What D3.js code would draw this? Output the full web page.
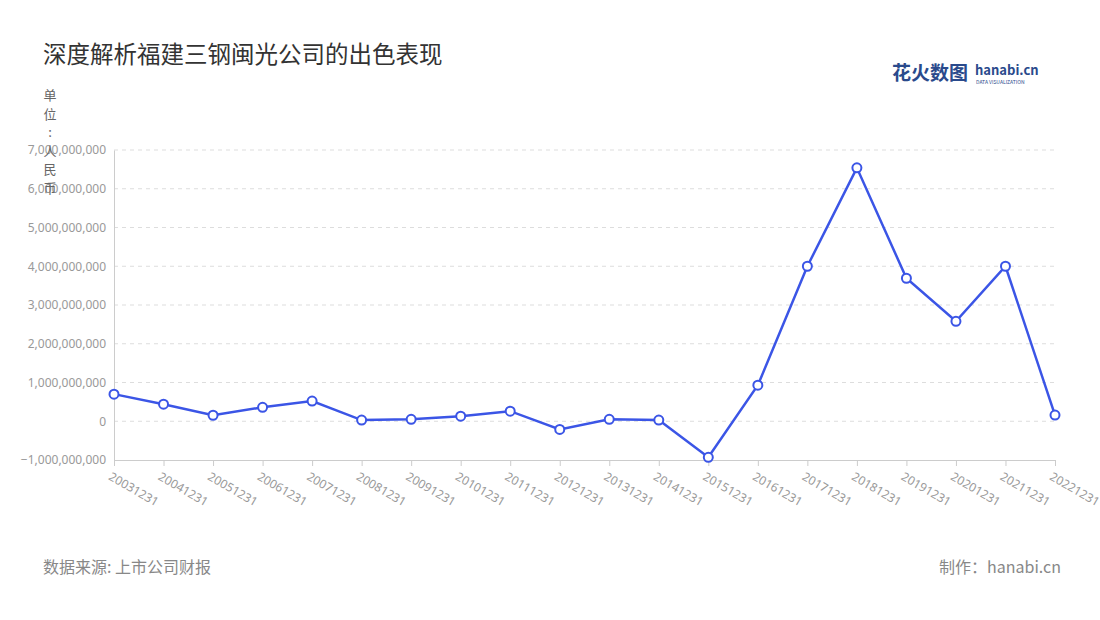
<!DOCTYPE html><html><head><meta charset="utf-8">
<script src="https://cdn.jsdelivr.net/npm/d3@7"></script>
<style>body{margin:0;background:#fff;font-family:"Noto Sans CJK SC","Noto Sans",sans-serif}</style></head><body>
<svg id="c" width="1100" height="620"></svg>
<script>
const categories=["20031231","20041231","20051231","20061231","20071231","20081231","20091231","20101231","20111231","20121231","20131231","20141231","20151231","20161231","20171231","20181231","20191231","20201231","20211231","20221231"];
const values=[0.70e9,0.44e9,0.155e9,0.36e9,0.52e9,0.03e9,0.05e9,0.13e9,0.26e9,-0.21e9,0.05e9,0.03e9,-0.93e9,0.93e9,4.0e9,6.54e9,3.69e9,2.58e9,4.0e9,0.16e9];
const yTicks=[-1e9,0,1e9,2e9,3e9,4e9,5e9,6e9,7e9];
const svg=d3.select("#c");
const x=d3.scalePoint().domain(categories).range([114,1055]);
const y=d3.scaleLinear().domain([-1e9,7e9]).range([460,150]);
svg.append("text").attr("x",43).attr("y",63).attr("font-size",23.5).attr("fill","#333").text("深度解析福建三钢闽光公司的出色表现");
const lg=svg.append("g");
lg.append("text").attr("x",892).attr("y",80).attr("font-size",19).attr("font-weight","bold").attr("fill","#2a4a8c").text("花火数图");
lg.append("text").attr("x",975).attr("y",75).attr("font-size",13).attr("font-weight","bold").attr("fill","#2a4a8c").text("hanabi.cn");
lg.append("text").attr("x",976).attr("y",84).attr("font-size",5).attr("fill","#2a4a8c").text("DATA VISUALIZATION");
svg.append("g").selectAll("line").data(yTicks.filter(d=>d!==-1e9)).join("line")
 .attr("x1",114).attr("x2",1055).attr("y1",d=>y(d)).attr("y2",d=>y(d))
 .attr("stroke","#ddd").attr("stroke-dasharray","4,4");
const ya=svg.append("g").attr("transform","translate(114,0)").call(d3.axisLeft(y).tickValues(yTicks).tickFormat(d3.format(",")).tickSize(0).tickPadding(8));
ya.select(".domain").attr("stroke","#ccc");
ya.selectAll("text").attr("fill","#999").attr("font-size",12).attr("font-family","Noto Sans");
const xa=svg.append("g").attr("transform","translate(0,460)").call(d3.axisBottom(x).tickSize(6));
xa.select(".domain").attr("stroke","#ccc");xa.selectAll("line").attr("stroke","#ccc");
xa.selectAll("text").attr("fill","#999").attr("font-size",12).attr("font-family","Noto Sans")
 .attr("text-anchor","start").attr("transform","translate(2,4) rotate(30)").attr("dy","0.7em");
const ul="单位：人民币".split("");
svg.append("g").selectAll("text").data(ul).join("text").attr("x",50).attr("y",(d,i)=>100+i*18.5)
 .attr("text-anchor","middle").attr("font-size",13).attr("fill","#666").text(d=>d==="："?":":d);
const line=d3.line().x((d,i)=>x(categories[i])).y(d=>y(d));
svg.append("path").datum(values).attr("d",line).attr("fill","none").attr("stroke","#3b55e6").attr("stroke-width",2.5);
svg.append("g").selectAll("circle").data(values).join("circle").attr("cx",(d,i)=>x(categories[i])).attr("cy",d=>y(d))
 .attr("r",4.5).attr("fill","#fff").attr("stroke","#3b55e6").attr("stroke-width",2);
svg.append("text").attr("x",43).attr("y",573).attr("font-size",16).attr("fill","#888").text("数据来源: 上市公司财报");
svg.append("text").attr("x",1061).attr("y",573).attr("text-anchor","end").attr("font-size",16).attr("fill","#888").text("制作：hanabi.cn");
</script></body></html>
